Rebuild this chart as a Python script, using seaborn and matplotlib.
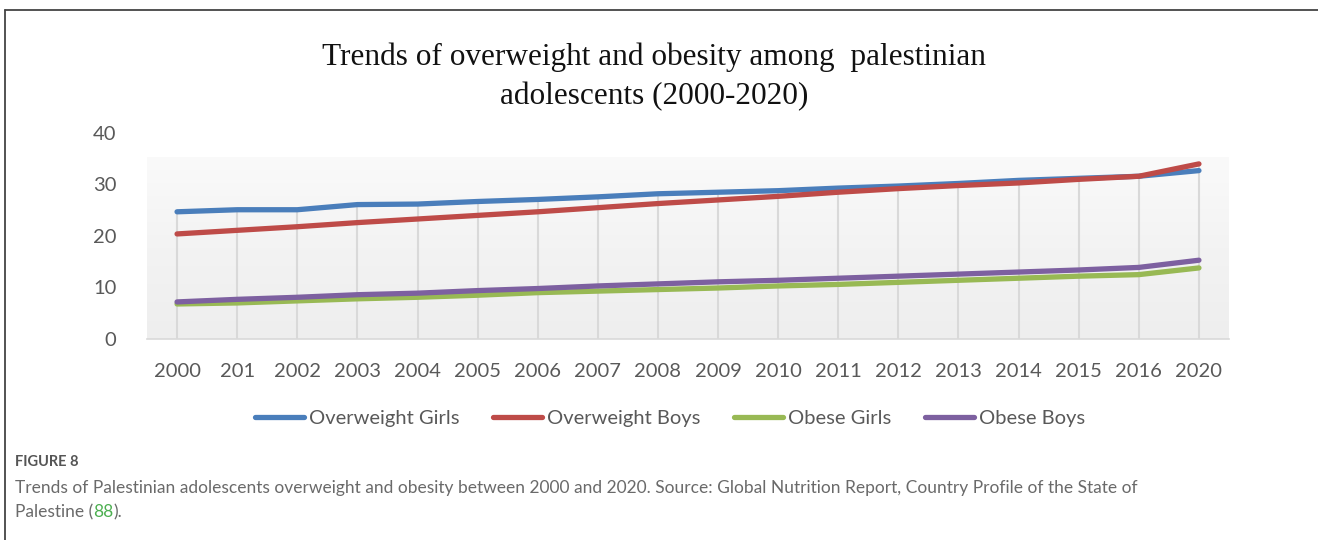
import numpy as np
import pandas as pd
import matplotlib
matplotlib.use("Agg")
import matplotlib.pyplot as plt
from matplotlib.colors import LinearSegmentedColormap
from matplotlib.lines import Line2D
import seaborn as sns

# ---- data -------------------------------------------------------------
years = ["2000", "201", "2002", "2003", "2004", "2005", "2006", "2007", "2008",
         "2009", "2010", "2011", "2012", "2013", "2014", "2015", "2016", "2020"]
overweight_girls = [24.7, 25.1, 25.1, 26.1, 26.2, 26.7, 27.1, 27.6, 28.2,
                    28.5, 28.8, 29.3, 29.7, 30.2, 30.8, 31.2, 31.6, 32.7]
overweight_boys = [20.4, 21.1, 21.8, 22.6, 23.3, 24.0, 24.7, 25.5, 26.3,
                   27.0, 27.7, 28.5, 29.2, 29.8, 30.3, 31.0, 31.6, 34.0]
obese_girls = [6.8, 7.0, 7.4, 7.8, 8.1, 8.5, 9.0, 9.3, 9.6,
               9.9, 10.3, 10.6, 11.0, 11.4, 11.8, 12.2, 12.5, 13.8]
obese_boys = [7.2, 7.7, 8.1, 8.6, 8.9, 9.4, 9.8, 10.3, 10.7,
              11.1, 11.4, 11.8, 12.2, 12.6, 13.0, 13.4, 13.9, 15.3]
series_names = ["Overweight Girls", "Overweight Boys", "Obese Girls", "Obese Boys"]
y_ticks = [0, 10, 20, 30, 40]

title = "Trends of overweight and obesity among  palestinian\nadolescents (2000-2020)"
caption_head = "FIGURE 8"
caption_line1 = ("Trends of Palestinian adolescents overweight and obesity between 2000 and 2020. "
                 "Source: Global Nutrition Report, Country Profile of the State of")
caption_line2_a = "Palestine ("
caption_line2_ref = "88"
caption_line2_b = ")."

colors = ["#4A7EBB", "#BE4B48", "#98B954", "#7D60A0"]

# ---- long-form table --------------------------------------------------
pos = np.arange(len(years))
frames = []
for name, vals in zip(series_names,
                      [overweight_girls, overweight_boys, obese_girls, obese_boys]):
    frames.append(pd.DataFrame({"pos": pos, "year": years, "value": vals, "series": name}))
df = pd.concat(frames, ignore_index=True)

sns.set_theme(style="white")
plt.rcParams["font.family"] = ["Lato", "DejaVu Sans"]

fig = plt.figure(figsize=(13.18, 5.40), dpi=100)
ax = fig.add_axes([147 / 1318, (540 - 339) / 540, (1229 - 147) / 1318, (339 - 133) / 540])

ax.set_xlim(-0.5, len(years) - 0.5)
ax.set_ylim(0, 40)

# plot-area gradient (stops a little below the top tick)
grad_top = 35.3
grad = np.linspace(0, 1, 256).reshape(-1, 1)
cmap = LinearSegmentedColormap.from_list("bg", ["#eeeeee", "#f3f3f3", "#fafafa"])
ax.imshow(grad, extent=[-0.5, len(years) - 0.5, 0, grad_top], origin="lower",
          aspect="auto", cmap=cmap, zorder=0)

# drop lines from the highest series down to the axis
tops = df.groupby("pos")["value"].max()
ax.vlines(tops.index, 0, tops.values, color="#d9d9d9", lw=1.5, zorder=1)

sns.lineplot(data=df, x="pos", y="value", hue="series", hue_order=series_names,
             palette=colors, linewidth=3.8, ax=ax, legend=False, zorder=3,
             solid_capstyle="round")

for s in ["top", "right", "left"]:
    ax.spines[s].set_visible(False)
ax.spines["bottom"].set_color("#d9d9d9")
ax.spines["bottom"].set_linewidth(1.2)
ax.spines["bottom"].set_bounds(-0.5, len(years) - 0.5)

ax.set_xticks(pos)
ax.set_xticklabels(years)
ax.set_yticks(y_ticks)
ax.tick_params(axis="both", length=0, labelsize=14.5, labelcolor="#595959")
ax.tick_params(axis="x", pad=17)
ax.tick_params(axis="y", pad=22)
ax.set_xlabel("")
ax.set_ylabel("")
ax.grid(False)

# legend along the bottom
handles = [Line2D([0], [0], color=c, lw=3.8) for c in colors]
fig.legend(handles, series_names, loc="center", bbox_to_anchor=(670 / 1318, (540 - 418) / 540),
           ncol=4, frameon=False, fontsize=14.5, handlelength=2.4, handletextpad=0.25,
           columnspacing=1.7, labelcolor="#595959")

# title
fig.text(654 / 1318, (540 - 77) / 540, title, ha="center", va="center",
         fontsize=22.5, family=["Liberation Serif", "DejaVu Serif"], color="#111111",
         linespacing=1.45)

# frame around the chart block
fig.add_artist(Line2D([5 / 1318, 5 / 1318], [0, (540 - 10) / 540], color="#444444", lw=1.3))
fig.add_artist(Line2D([5 / 1318, 1], [(540 - 10) / 540, (540 - 10) / 540], color="#444444", lw=1.3))

# caption
cap_kw = dict(fontsize=12.5, color="#6a6a6a")
fig.text(15 / 1318, (540 - 462) / 540, caption_head, ha="left", va="center",
         fontsize=10.5, color="#555555", fontweight="bold")
fig.text(15 / 1318, (540 - 488) / 540, caption_line1, ha="left", va="center", **cap_kw)
t = fig.text(15 / 1318, (540 - 512) / 540, caption_line2_a, ha="left", va="center", **cap_kw)
fig.canvas.draw()
r = fig.canvas.get_renderer()
bb = t.get_window_extent(r)
t2 = fig.text(bb.x1 / fig.bbox.width, (540 - 512) / 540, caption_line2_ref, ha="left",
              va="center", fontsize=12.5, color="#4CAF50")
bb2 = t2.get_window_extent(r)
fig.text(bb2.x1 / fig.bbox.width, (540 - 512) / 540, caption_line2_b, ha="left",
         va="center", **cap_kw)

fig.savefig("out.png", dpi=100, facecolor="white")
